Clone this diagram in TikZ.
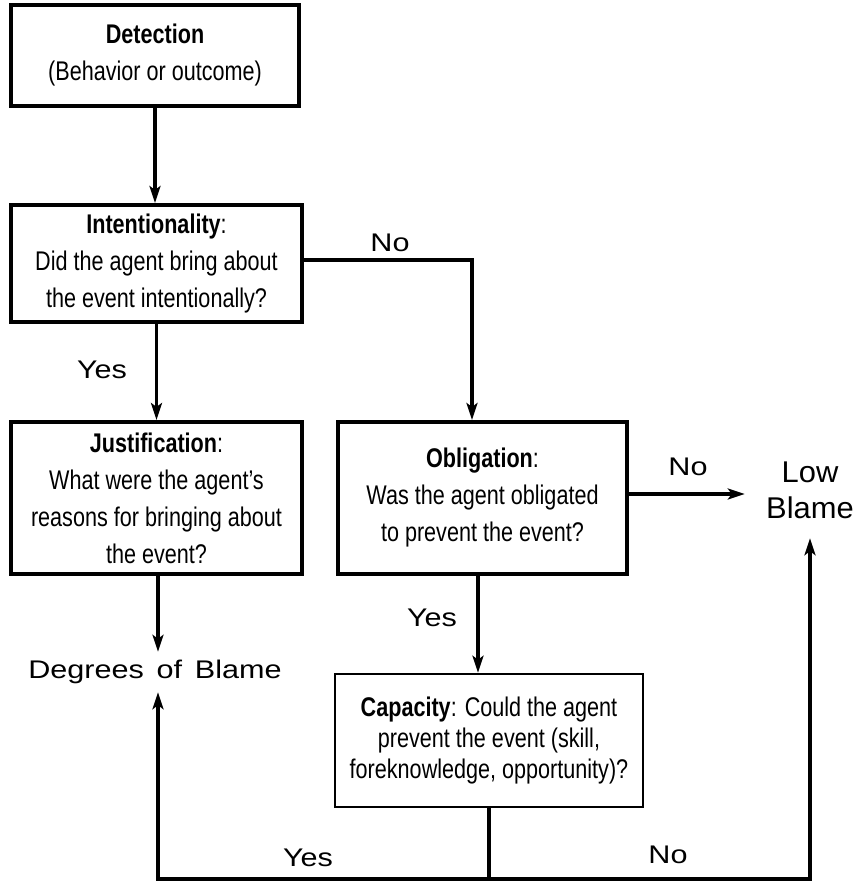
\documentclass[tikz,border=0pt]{standalone}
\usepackage{fontspec}
\setmainfont{Liberation Sans}
\newfontfamily\boxfont[FakeStretch=0.8]{Liberation Sans}
\newfontfamily\answerfont[FakeStretch=1.2,WordSpace=1.5]{Liberation Sans}
\newfontfamily\verdictfont[FakeStretch=1.03]{Liberation Sans}
\usetikzlibrary{arrows.meta,positioning}

\begin{document}
\begin{tikzpicture}[x=1pt,y=-1pt,
  stage/.style={rectangle, draw=black, line width=4pt, fill=white,
    align=center, inner sep=0pt, font=\boxfont\fontsize{27}{37}\selectfont},
  verdict/.style={inner sep=0pt, align=center,
    font=\verdictfont\fontsize{30}{36}\selectfont},
  answer/.style={inner sep=0pt, font=\answerfont\fontsize{25.5}{30}\selectfont},
  link/.style={line width=3.5pt},
  flow/.style={link, -{Stealth[length=17pt,width=11pt,inset=4pt]}}]
  \useasboundingbox (0,0) rectangle (860,884);

  % the question boxes
  \node[stage, minimum width=288, minimum height=101] (det) at (155,55.5)
    {\textbf{Detection}\\(Behavior or outcome)};
  \node[stage, minimum width=291, minimum height=117] (intent) at (156.5,263.5)
    {\textbf{Intentionality}:\\Did the agent bring about\\the event intentionally?};
  \node[stage, minimum width=291, minimum height=152] (just) at (156.5,498)
    {\textbf{Justification}:\\What were the agent’s\\reasons for bringing about\\the event?};
  \node[stage, minimum width=289, minimum height=152] (oblig) at (482.5,498)
    {\textbf{Obligation}:\\Was the agent obligated\\to prevent the event?};
  \node[stage, line width=2.5pt, minimum width=308, minimum height=133,
    font=\boxfont\fontsize{27}{31}\selectfont] (capa) at (489,740.5)
    {\textbf{Capacity}: Could the agent\\prevent the event (skill,\\foreknowledge, opportunity)?};

  % outcomes
  \node[answer, minimum width=260, minimum height=40] (deg) at (155,672)
    {Degrees of Blame};
  \node[verdict, minimum width=130, minimum height=96] (low) at (810,490)
    {Low\\Blame};

  \coordinate (bend) at (472,260);
  \coordinate (base) at (489,879);

  % connectors
  \draw[flow] (det.south) -- (det.south |- intent.north);
  \draw[flow] (intent.south) -- (just.north);
  \draw[flow] (intent.east |- bend) -- (bend) -- (bend |- oblig.north);
  \draw[flow] ([xshift=1.5pt]just.south) -- ([xshift=1.5pt]just.south |- deg.north);
  \draw[flow] ([yshift=4pt]oblig.east) -- ([yshift=4pt]oblig.east -| low.west);
  \draw[flow] ([xshift=-4.5pt]oblig.south) -- ([xshift=-4.5pt]oblig.south |- capa.north);
  \draw[link] (capa.south) -- (base);
  \draw[flow] (base) -| ([xshift=3pt]deg.south);
  \draw[flow] (base) -| (low.south);

  % answers
  \node[answer] (no1) at (390,243) {No};
  \node[answer] (yes1) at (102,370) {Yes};
  \node[answer] (no2) at (688,467) {No};
  \node[answer] (yes2) at (432,618) {Yes};
  \node[answer] (yes3) at (308,858) {Yes};
  \node[answer] (no3) at (668,855) {No};
\end{tikzpicture}
\end{document}
